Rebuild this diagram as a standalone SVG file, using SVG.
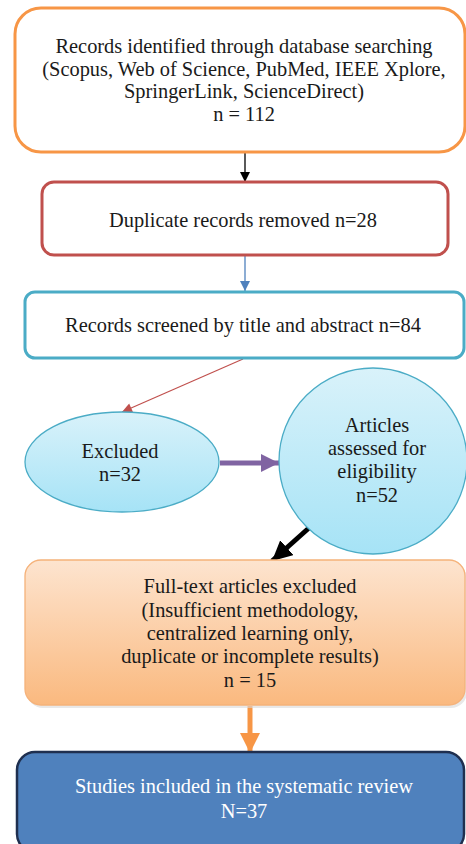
<svg xmlns="http://www.w3.org/2000/svg" width="466" height="844" viewBox="0 0 466 844">
<defs>
<style>
text{font-family:"Liberation Serif","Times New Roman",serif;font-size:20.4px;fill:#1a1a1a;text-anchor:middle}
.w{fill:#ffffff}
</style>
<linearGradient id="cy" x1="0" y1="0" x2="0" y2="1"><stop offset="0" stop-color="#d9f2fa"/><stop offset="1" stop-color="#a6e3f6"/></linearGradient>
<linearGradient id="pe" x1="0" y1="0" x2="0" y2="1"><stop offset="0" stop-color="#fde4cf"/><stop offset="1" stop-color="#fab97f"/></linearGradient>
<marker id="mk" viewBox="0 0 10 10" refX="10" refY="5" markerWidth="10" markerHeight="10" markerUnits="userSpaceOnUse" orient="auto"><path d="M0,0L10,5L0,10z" fill="#000"/></marker>
<marker id="mb" viewBox="0 0 10 10" refX="10" refY="5" markerWidth="10" markerHeight="10" markerUnits="userSpaceOnUse" orient="auto"><path d="M0,0L10,5L0,10z" fill="#4f81bd"/></marker>
<marker id="mr" viewBox="0 0 10 10" refX="10" refY="5" markerWidth="12" markerHeight="10" markerUnits="userSpaceOnUse" orient="auto"><path d="M0,0L10,5L0,10z" fill="#c0504d"/></marker>
<marker id="mp" viewBox="0 0 10 10" refX="10" refY="5" markerWidth="3.6" markerHeight="3.6" orient="auto"><path d="M0,0L10,5L0,10z" fill="#8064a2"/></marker>
<marker id="mk2" viewBox="0 0 10 10" refX="10" refY="5" markerWidth="4" markerHeight="4" orient="auto"><path d="M0,0L10,5L0,10z" fill="#000"/></marker>
<marker id="mo" viewBox="0 0 10 10" refX="10" refY="5" markerWidth="4" markerHeight="4" orient="auto"><path d="M0,0L10,5L0,10z" fill="#f79646"/></marker>
</defs>
<rect width="466" height="844" fill="#ffffff"/>
<g id="connectors" fill="none">
<line x1="245" y1="153" x2="245" y2="182" stroke="#000" stroke-width="1.3" marker-end="url(#mk)"/>
<line x1="245" y1="256" x2="245" y2="291" stroke="#4f81bd" stroke-width="1.3" marker-end="url(#mb)"/>
<line x1="243" y1="359" x2="122" y2="412" stroke="#c0504d" stroke-width="1.2" marker-end="url(#mr)"/>
<line x1="220" y1="463" x2="279" y2="463" stroke="#8064a2" stroke-width="5" marker-end="url(#mp)"/>
<line x1="310" y1="527" x2="272" y2="561" stroke="#000" stroke-width="5" marker-end="url(#mk2)"/>
<line x1="250" y1="706" x2="250" y2="753" stroke="#f79646" stroke-width="5" marker-end="url(#mo)"/>
</g>
<g id="n1">
<rect x="15" y="8" width="450" height="144" rx="26" fill="#fff" stroke="#f79646" stroke-width="3"/>
<text x="244" y="53">Records identified through database searching</text>
<text x="244" y="76">(Scopus, Web of Science, PubMed, IEEE Xplore,</text>
<text x="244" y="98">SpringerLink, ScienceDirect)</text>
<text x="244" y="121">n = 112</text>
</g>
<g id="n2">
<rect x="42" y="182" width="406" height="73" rx="12" fill="#fff" stroke="#c0504d" stroke-width="3"/>
<text x="243" y="227">Duplicate records removed n=28</text>
</g>
<g id="n3">
<rect x="25" y="292" width="439" height="66" rx="10" fill="#fff" stroke="#4bacc6" stroke-width="3"/>
<text x="243" y="332">Records screened by title and abstract n=84</text>
</g>
<g id="n4">
<ellipse cx="122" cy="462" rx="97" ry="50" fill="url(#cy)" stroke="#4bacc6" stroke-width="1.3"/>
<text x="120" y="458">Excluded</text>
<text x="120" y="481">n=32</text>
</g>
<g id="n5">
<ellipse cx="373" cy="461" rx="94" ry="93" fill="url(#cy)" stroke="#4bacc6" stroke-width="1.3"/>
<text x="377" y="432">Articles</text>
<text x="377" y="455">assessed for</text>
<text x="377" y="478">eligibility</text>
<text x="377" y="502">n=52</text>
</g>
<g id="n6">
<rect x="27" y="563" width="440" height="145" rx="16" fill="#d8d8d8" opacity="0.6"/>
<rect x="25" y="560" width="440" height="145" rx="16" fill="url(#pe)" stroke="#f5b27a" stroke-width="1.3"/>
<text x="250" y="593">Full-text articles excluded</text>
<text x="250" y="617">(Insufficient methodology,</text>
<text x="250" y="640">centralized learning only,</text>
<text x="250" y="663">duplicate or incomplete results)</text>
<text x="250" y="687">n = 15</text>
</g>
<g id="n7">
<rect x="17" y="752" width="447" height="100" rx="18" fill="#4f81bd" stroke="#1f2f4f" stroke-width="2.5"/>
<text class="w" x="244" y="793">Studies included in the systematic review</text>
<text class="w" x="244" y="818">N=37</text>
</g>
</svg>
